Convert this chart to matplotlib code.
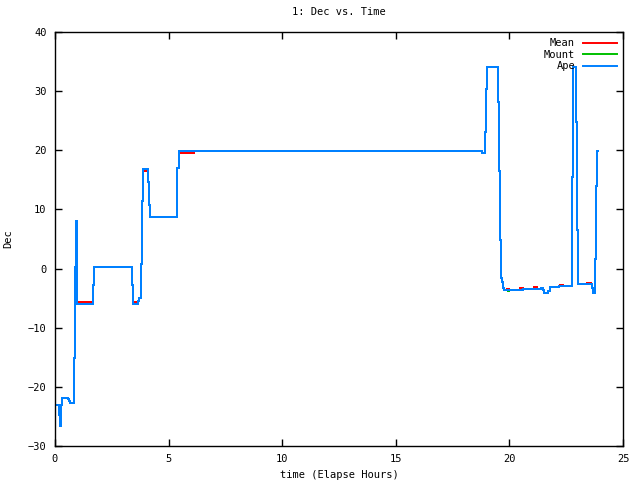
import matplotlib
matplotlib.use("Agg")
import matplotlib.pyplot as plt

# step points (time in hours, dec) - value held until next time
ape_t = [0.00, 0.19, 0.21, 0.23, 0.25, 0.30, 0.59, 0.62, 0.66, 0.85, 0.89, 0.94, 0.97, 0.99,
         1.69, 1.73, 3.37, 3.42, 3.67, 3.71, 3.78, 3.82, 3.86, 4.11, 4.15, 4.20, 5.35, 5.39, 5.44,
         18.79, 18.94, 18.98, 19.03, 19.51, 19.55, 19.59, 19.63, 19.68, 19.72, 19.77,
         20.60, 21.10, 21.40, 21.50, 21.53, 21.70, 21.79, 22.20, 22.74, 22.78, 22.93, 22.98, 23.03,
         23.62, 23.66, 23.77, 23.81, 23.85, 23.88]
ape_dec = [-23.0, -24.8, -25.3, -26.7, -23.0, -21.8, -22.1, -22.4, -22.8, -15.1, 0.3, 8.0, 1.0, -6.0,
           -2.8, 0.3, -2.8, -6.0, -5.5, -4.9, 0.8, 11.4, 16.8, 14.7, 10.8, 8.8, 11.5, 17.0, 19.8,
           19.5, 23.1, 30.3, 34.0, 28.2, 16.5, 4.8, -1.6, -2.2, -3.3, -3.6,
           -3.5, -3.4, -3.3, -3.7, -4.2, -3.8, -3.1, -2.9, 15.5, 34.0, 24.8, 6.5, -2.6,
           -3.3, -4.2, 1.7, 13.9, 19.9, 19.9]

mean_t = [0.00, 0.19, 0.21, 0.23, 0.25, 0.30, 0.59, 0.62, 0.66, 0.85, 0.89, 0.94, 0.97, 0.99,
          1.69, 1.73, 3.37, 3.42, 3.67, 3.71, 3.78, 3.82, 3.86, 4.11, 4.15, 4.20, 5.35, 5.39, 5.44, 6.10,
          18.79, 18.94, 18.98, 19.03, 19.51, 19.55, 19.59, 19.63, 19.68, 19.72, 19.77, 19.88, 20.00,
          20.47, 20.60, 21.08, 21.20, 21.40, 21.50, 21.53, 21.70, 21.79, 22.20, 22.23, 22.36,
          22.74, 22.78, 22.93, 22.98, 23.03, 23.40, 23.60, 23.62, 23.66, 23.77, 23.81, 23.85, 23.88]
mean_dec = [-23.0, -24.8, -25.3, -26.7, -23.0, -21.8, -22.1, -22.4, -22.8, -15.1, 0.3, 8.0, 1.0, -5.7,
            -2.8, 0.3, -2.8, -5.7, -5.5, -4.9, 0.8, 11.4, 16.5, 14.7, 10.8, 8.8, 11.5, 17.0, 19.6, 19.8,
            19.5, 23.1, 30.3, 34.0, 28.2, 16.5, 4.8, -1.6, -2.2, -3.3, -3.6, -3.4, -3.6,
            -3.3, -3.5, -3.2, -3.4, -3.3, -3.7, -4.2, -3.8, -3.1, -2.9, -2.7, -2.9,
            15.5, 34.0, 24.8, 6.5, -2.6, -2.4, -2.6, -3.3, -4.2, 1.7, 13.9, 19.9, 19.9]

mount_t = [0.00, 0.19, 0.21, 0.23, 0.25, 0.30, 0.59, 0.62, 0.66, 0.85, 0.89, 0.94, 0.97, 0.99,
           1.69, 1.73, 3.37, 3.42, 3.67, 3.71, 3.78, 3.82, 3.86, 4.11, 4.15, 4.20, 5.35, 5.39, 5.44,
           18.79, 18.94, 18.98, 19.03, 19.51, 19.55, 19.59, 19.63, 19.68, 19.72, 19.77, 19.92, 20.00,
           20.60, 21.10, 21.40, 21.50, 21.53, 21.70, 21.79, 22.20, 22.74, 22.78, 22.93, 22.98, 23.03,
           23.62, 23.66, 23.77, 23.81, 23.85, 23.88]
mount_dec = [-23.0, -24.8, -25.3, -26.7, -23.0, -21.8, -22.1, -22.4, -22.8, -15.1, 0.3, 8.0, 1.0, -6.0,
             -2.8, 0.3, -2.8, -6.0, -5.5, -4.9, 0.8, 11.4, 16.8, 14.7, 10.8, 8.8, 11.5, 17.0, 19.8,
             19.5, 23.1, 30.3, 34.0, 28.2, 16.5, 4.8, -1.6, -2.2, -3.3, -3.6, -3.8, -3.6,
             -3.5, -3.4, -3.3, -3.7, -4.2, -3.8, -3.1, -2.9, 15.5, 34.0, 24.8, 6.5, -2.6,
             -3.3, -4.2, 1.7, 13.9, 19.9, 19.9]

font = "DejaVu Sans Mono"
plt.rcParams["font.family"] = font
plt.rcParams["font.size"] = 7.5

fig = plt.figure(figsize=(6.4, 4.8), dpi=100)
ax = fig.add_axes([55 / 640, 34 / 480, 568 / 640, 414 / 480])

line_kw = dict(where="post", lw=1.4, antialiased=False)
ax.step(mean_t, mean_dec, color="#ff0000", label="Mean", **line_kw)
ax.step(mount_t, mount_dec, color="#00c000", label="Mount", **line_kw)
ax.step(ape_t, ape_dec, color="#0080ff", label="Ape", **line_kw)

ax.set_xlim(0, 25)
ax.set_ylim(-30, 40)
ax.set_xticks([0, 5, 10, 15, 20, 25])
ax.set_yticks(range(-30, 41, 10))
ax.tick_params(direction="in", top=True, right=True, length=5, width=1, pad=6)
for s in ax.spines.values():
    s.set_linewidth(1)

ax.set_title("1: Dec vs. Time", fontsize=7.5, pad=12)
ax.set_xlabel("time (Elapse Hours)", labelpad=4)
ax.set_ylabel("Dec")
ax.yaxis.set_label_coords(-0.074, 0.5)

ax.legend(loc="upper right", frameon=False, markerfirst=False, handlelength=3.2,
          handletextpad=0.8, labelspacing=0.15, borderaxespad=0.2, fontsize=7.5)

fig.savefig("out.png", dpi=100)
